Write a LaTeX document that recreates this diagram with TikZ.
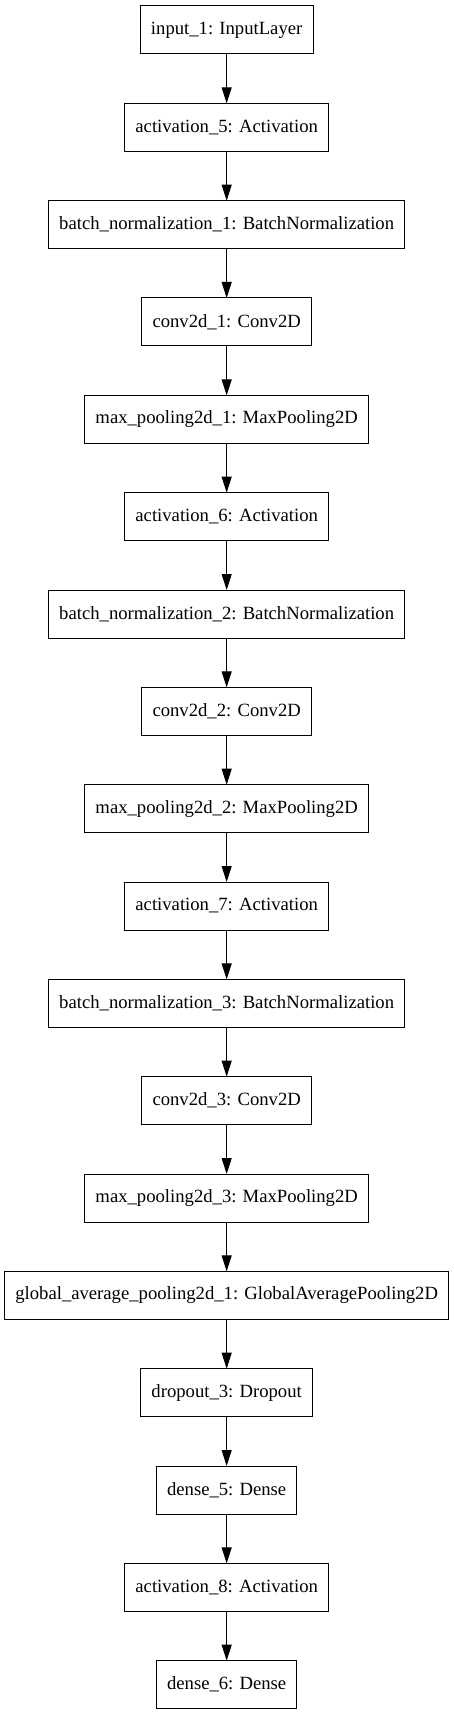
\documentclass[tikz,border=0pt]{standalone}
\usepackage{fontspec}
\setmainfont{Liberation Serif}
\usetikzlibrary{arrows.meta,positioning}

\tikzset{
    layer/.style={draw,line width=0.75pt,outer sep=0pt,minimum height=36pt,inner xsep=8pt,inner ysep=0pt,font=\fontsize{14pt}{16pt}\selectfont},
    flow/.style={line width=0.75pt,-{Triangle[length=12pt,width=7.5pt]}}
}

\begin{document}
\begin{tikzpicture}[node distance=37pt]
        \useasboundingbox(0,0)rectangle(339.75pt,-1286.25pt);
        \node[layer](in)at(170pt,-22.5pt){input\_1: InputLayer};
        \node[layer,below=of in](act5){activation\_5: Activation};
        \node[layer,below=of act5](bn1){batch\_normalization\_1: BatchNormalization};
        \node[layer,below=of bn1](conv1){conv2d\_1: Conv2D};
        \node[layer,below=of conv1](pool1){max\_pooling2d\_1: MaxPooling2D};
        \node[layer,below=of pool1](act6){activation\_6: Activation};
        \node[layer,below=of act6](bn2){batch\_normalization\_2: BatchNormalization};
        \node[layer,below=of bn2](conv2){conv2d\_2: Conv2D};
        \node[layer,below=of conv2](pool2){max\_pooling2d\_2: MaxPooling2D};
        \node[layer,below=of pool2](act7){activation\_7: Activation};
        \node[layer,below=of act7](bn3){batch\_normalization\_3: BatchNormalization};
        \node[layer,below=of bn3](conv3){conv2d\_3: Conv2D};
        \node[layer,below=of conv3](pool3){max\_pooling2d\_3: MaxPooling2D};
        \node[layer,below=of pool3](gap){global\_average\_pooling2d\_1: GlobalAveragePooling2D};
        \node[layer,below=of gap](drop){dropout\_3: Dropout};
        \node[layer,below=of drop](d5){dense\_5: Dense};
        \node[layer,below=of d5](act8){activation\_8: Activation};
        \node[layer,below=of act8](d6){dense\_6: Dense};
        \draw[flow](in)--(act5);
        \draw[flow](act5)--(bn1);
        \draw[flow](bn1)--(conv1);
        \draw[flow](conv1)--(pool1);
        \draw[flow](pool1)--(act6);
        \draw[flow](act6)--(bn2);
        \draw[flow](bn2)--(conv2);
        \draw[flow](conv2)--(pool2);
        \draw[flow](pool2)--(act7);
        \draw[flow](act7)--(bn3);
        \draw[flow](bn3)--(conv3);
        \draw[flow](conv3)--(pool3);
        \draw[flow](pool3)--(gap);
        \draw[flow](gap)--(drop);
        \draw[flow](drop)--(d5);
        \draw[flow](d5)--(act8);
        \draw[flow](act8)--(d6);
    \end{tikzpicture}
\end{document}
